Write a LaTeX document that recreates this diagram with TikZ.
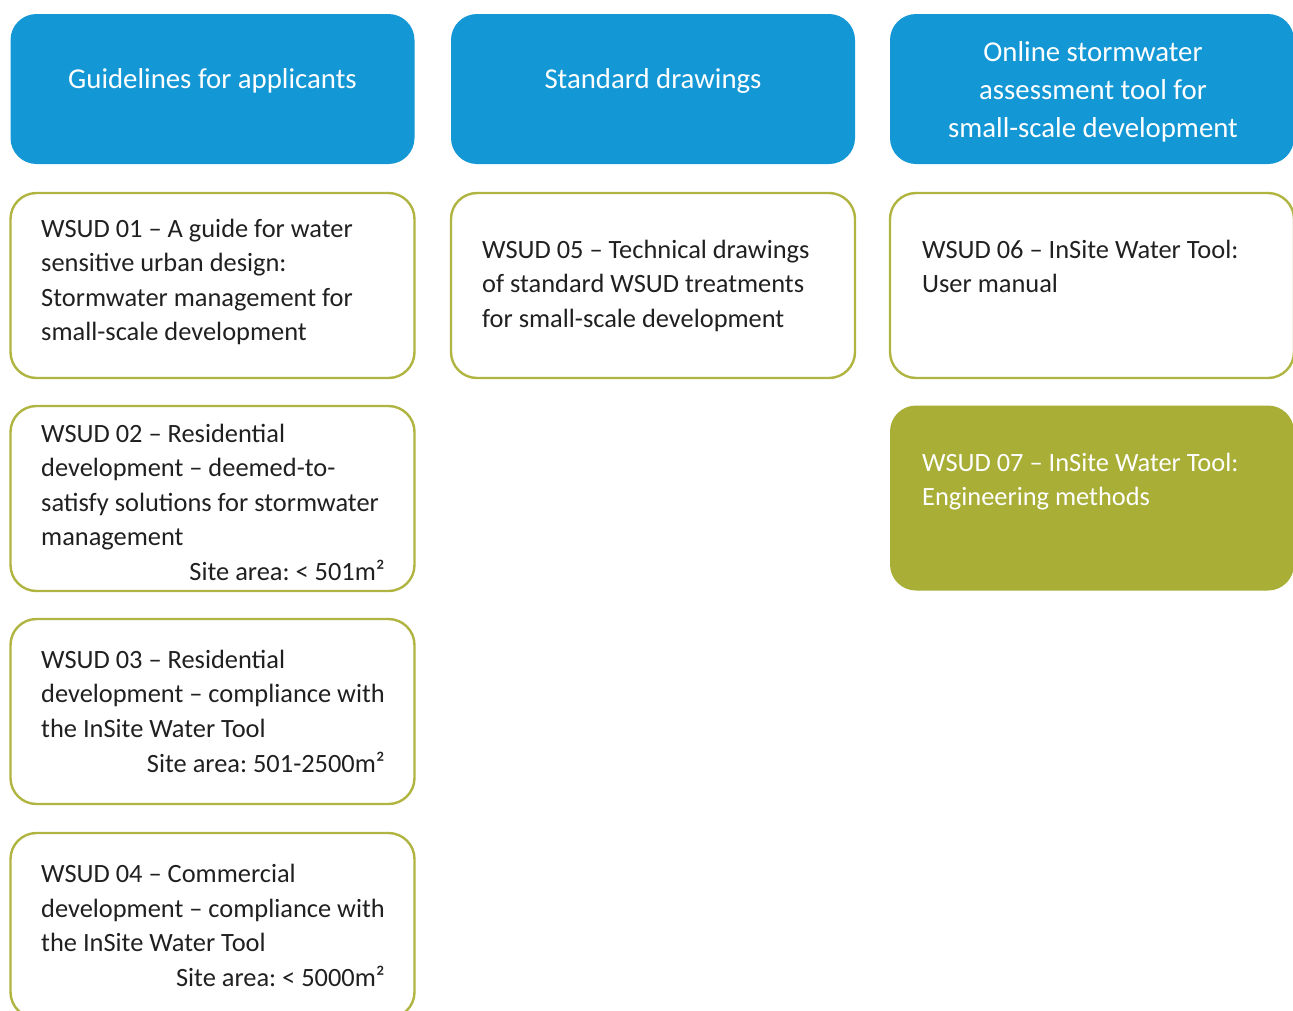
\documentclass[tikz,border=0pt]{standalone}
\usepackage{fontspec}
\setmainfont{Carlito}
\frenchspacing
\definecolor{hdrblue}{RGB}{20,151,213}
\definecolor{olivefill}{RGB}{168,174,54}
\definecolor{rimolive}{RGB}{176,180,64}
\definecolor{ink}{RGB}{32,32,32}
\begin{document}
\begin{tikzpicture}[x=1pt,y=-1pt,
  card/.style={rounded corners=26pt, minimum width=404pt, minimum height=185pt, inner sep=0pt},
  header/.style={card, fill=hdrblue, minimum height=150pt},
  doc/.style={card, draw=rimolive, line width=2.4pt, fill=white},
  docfilled/.style={card, fill=olivefill},
  body/.style={anchor=north west, inner sep=0pt, align=left, text=ink,
    font=\fontsize{26.4}{34.5}\selectfont},
  bodylight/.style={body, text=white},
  area/.style={anchor=base east, inner sep=0pt, text=ink,
    font=\fontsize{26.4}{34.5}\selectfont},
  htext/.style={inner sep=0pt, align=center, text=white,
    font=\fontsize{28.8}{38}\selectfont}]

\useasboundingbox (0,0) rectangle (1293,1010);

% column headers
\node[header] (h1) at (212.5,89) {};
\node[header] (h2) at (653,89) {};
\node[header] (h3) at (1092,89) {};
\node[htext, anchor=base] (h1t) at (212.5,88) {Guidelines for applicants};
\node[htext, anchor=base] (h2t) at (653,88) {Standard drawings};
\node[htext, anchor=north] (h3t) at (1093,34.4)
  {\strut Online stormwater\\assessment tool for\\small-scale development};

% guidelines column
\node[doc] (d1) at (212.5,285.5) {};
\node[body] (d1t) at (41,212.9) {\strut WSUD 01 -- A guide for water\\sensitive urban design:\\Stormwater management for\\small-scale development};

\node[doc] (d2) at (212.5,498.5) {};
\node[body] (d2t) at (41,417.9) {\strut WSUD 02 -- Residential\\development -- deemed-to-\\satisfy solutions for stormwater\\management};
\node[area] (d2a) at (385,580) {Site area: < 501m²};

\node[doc] (d3) at (212.5,711.5) {};
\node[body] (d3t) at (41,643.9) {\strut WSUD 03 -- Residential\\development -- compliance with\\the InSite Water Tool};
\node[area] (d3a) at (385,772) {Site area: 501-2500m²};

\node[doc] (d4) at (212.5,925.5) {};
\node[body] (d4t) at (41,858.4) {\strut WSUD 04 -- Commercial\\development -- compliance with\\the InSite Water Tool};
\node[area] (d4a) at (385,986) {Site area: < 5000m²};

% standard drawings column
\node[doc] (d5) at (653,285.5) {};
\node[body] (d5t) at (482,233.9) {\strut WSUD 05 -- Technical drawings\\of standard WSUD treatments\\for small-scale development};

% online tool column
\node[doc] (d6) at (1092,285.5) {};
\node[body] (d6t) at (922,233.9) {\strut WSUD 06 -- InSite Water Tool:\\User manual};

\node[docfilled] (d7) at (1092,498) {};
\node[bodylight] (d7t) at (922,446.9) {\strut WSUD 07 -- InSite Water Tool:\\Engineering methods};

\end{tikzpicture}
\end{document}
